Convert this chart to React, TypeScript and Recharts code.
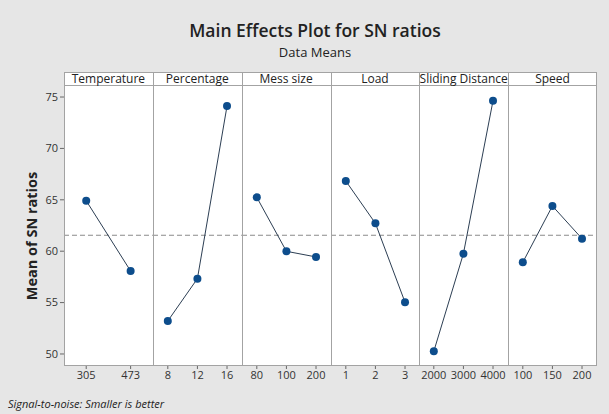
import React from "react"
import { LineChart, Line, XAxis, YAxis, ReferenceLine } from "recharts"

// factor names and their levels
const factors = ["Temperature", "Percentage", "Mess size", "Load", "Sliding Distance", "Speed"]
const temperatureLevels = ["305", "473"]
const percentageLevels = ["8", "12", "16"]
const messLevels = ["80", "100", "200"]
const loadLevels = ["1", "2", "3"]
const slidingLevels = ["2000", "3000", "4000"]
const speedLevels = ["100", "150", "200"]

// mean SN ratio per level
const temperatureSN = [64.91, 58.07]
const percentageSN = [53.21, 57.33, 74.12]
const messSN = [65.24, 59.99, 59.44]
const loadSN = [66.83, 62.71, 55.03]
const slidingSN = [50.26, 59.76, 74.64]
const speedSN = [58.92, 64.4, 61.22]

const overallMean = 61.55
const yTicks = [50, 55, 60, 65, 70, 75]

const levels = [temperatureLevels, percentageLevels, messLevels, loadLevels, slidingLevels, speedLevels]
const values = [temperatureSN, percentageSN, messSN, loadSN, slidingSN, speedSN]

const FONT = "'Open Sans', 'Noto Sans', sans-serif"
const LEFT = 64
const TOP = 72
const HEAD = 13
const PLOT_BOTTOM = 366
const PANEL_W = 533 / 6
const AXIS_W = 64
const X_AXIS_H = 24
const BORDER = "#a3a3a3"

const App: React.FC = () => {
  const plotH = PLOT_BOTTOM - (TOP + HEAD)
  return (
    <div style={{ position: "absolute", left: 0, top: 0, width: 609, height: 414, background: "#e6e6e6", fontFamily: FONT, overflow: "hidden" }}>
      <div style={{ position: "absolute", left: 0, width: 630, top: 18, textAlign: "center", fontSize: 17.5, fontWeight: 600, color: "#222" }}>
        Main Effects Plot for SN ratios
      </div>
      <div style={{ position: "absolute", left: 0, width: 630, top: 43, textAlign: "center", fontSize: 13, color: "#222" }}>
        Data Means
      </div>
      <div style={{ position: "absolute", left: LEFT, top: TOP, width: PANEL_W * 6, height: PLOT_BOTTOM - TOP, background: "#fff" }} />
      <div style={{ position: "absolute", left: 32 - 100, top: 236 - 10, width: 200, height: 20, transform: "rotate(-90deg)", textAlign: "center", fontSize: 14.5, fontWeight: 700, color: "#222", lineHeight: "20px" }}>
        Mean of SN ratios
      </div>
      {factors.map((name, i) => {
        const data = levels[i].map((lv, j) => ({ level: lv, sn: values[i][j] }))
        const first = i === 0
        const w = first ? PANEL_W + AXIS_W : PANEL_W
        const left = first ? LEFT - AXIS_W : LEFT + PANEL_W * i
        const pad = PANEL_W / (2 * data.length)
        return (
          <div key={name} style={{ position: "absolute", left, top: TOP + HEAD }}>
            <LineChart width={w} height={plotH + X_AXIS_H} data={data} margin={{ top: 0, right: 0, bottom: 0, left: 0 }}>
              <XAxis
                dataKey="level"
                height={X_AXIS_H}
                padding={{ left: pad, right: pad }}
                axisLine={false}
                tickSize={3}
                tickLine={{ stroke: "#666" }}
                tick={{ fontSize: 11, fill: "#333", fontFamily: FONT }}
                interval={0}
              />
              <YAxis
                hide={!first}
                width={AXIS_W}
                domain={[48.83, 76.17]}
                ticks={yTicks}
                axisLine={false}
                tickSize={4}
                tickLine={{ stroke: "#666" }}
                tick={{ fontSize: 11, fill: "#333", fontFamily: FONT }}
              />
              <ReferenceLine y={overallMean} stroke="#8a8a8a" strokeDasharray="5 3" />
              <Line
                dataKey="sn"
                stroke="#2b3d52"
                strokeWidth={1}
                dot={{ r: 4, fill: "#0d4d8c", stroke: "#0d4d8c", strokeWidth: 0 }}
                isAnimationActive={false}
              />
            </LineChart>
          </div>
        )
      })}
      {/* frame, header strip and dividers */}
      <div style={{ position: "absolute", left: LEFT, top: TOP, width: PANEL_W * 6, height: PLOT_BOTTOM - TOP, border: `1px solid ${BORDER}`, boxSizing: "border-box" }} />
      <div style={{ position: "absolute", left: LEFT, top: TOP + HEAD, width: PANEL_W * 6, height: 1, background: BORDER }} />
      {factors.slice(1).map((_, i) => (
        <div key={i} style={{ position: "absolute", left: LEFT + PANEL_W * (i + 1), top: TOP, width: 1, height: PLOT_BOTTOM - TOP, background: BORDER }} />
      ))}
      {factors.map((name, i) => (
        <div key={name} style={{ position: "absolute", left: LEFT + PANEL_W * i, top: TOP, width: PANEL_W, height: HEAD, lineHeight: `${HEAD + 1}px`, textAlign: "center", fontSize: 12, color: "#222", whiteSpace: "nowrap" }}>
          {name}
        </div>
      ))}
      <div style={{ position: "absolute", left: 8, top: 396, fontSize: 11, fontStyle: "italic", color: "#222" }}>
        Signal-to-noise: Smaller is better
      </div>
    </div>
  )
}

export default App
